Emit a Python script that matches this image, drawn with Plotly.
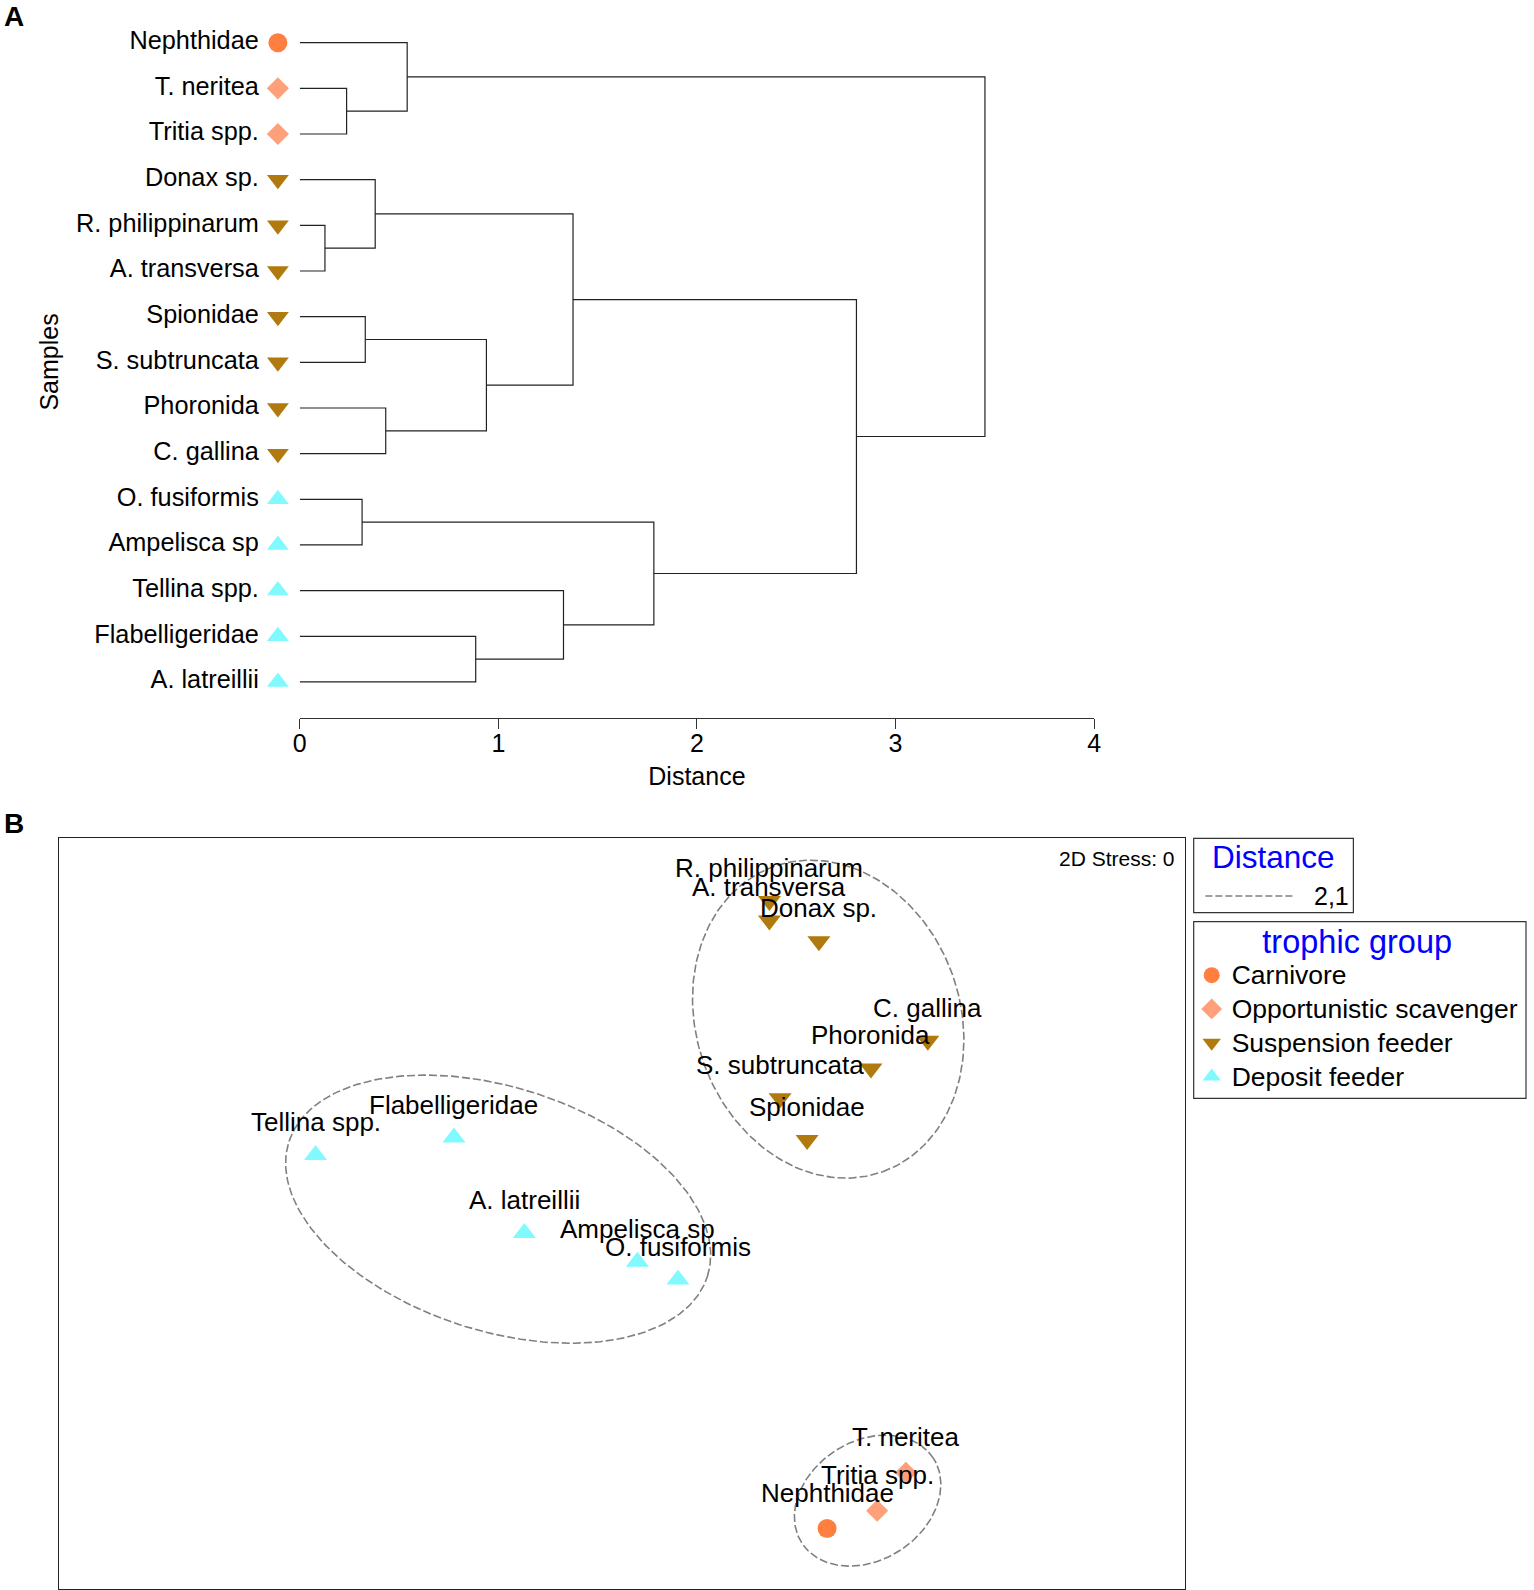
import numpy as np
import plotly.graph_objects as go

W, H = 1534, 1590
FONT = "Liberation Sans, Arial, sans-serif"


def hx(px):
    """horizontal pixel position -> paper fraction (small calibration for the capture)"""
    return (px - 6.0) / 0.9928 / W


def vy(py):
    """vertical pixel position (from top) -> paper fraction"""
    return 1 - py / H


# ---------------- Panel A: dendrogram data ----------------
leaf_names = ["Nephthidae", "T. neritea", "Tritia spp.", "Donax sp.", "R. philippinarum",
              "A. transversa", "Spionidae", "S. subtruncata", "Phoronida", "C. gallina",
              "O. fusiformis", "Ampelisca sp", "Tellina spp.", "Flabelligeridae", "A. latreillii"]
leaf_groups = ["Carnivore", "Opportunistic scavenger", "Opportunistic scavenger",
               "Suspension feeder", "Suspension feeder", "Suspension feeder", "Suspension feeder",
               "Suspension feeder", "Suspension feeder", "Suspension feeder",
               "Deposit feeder", "Deposit feeder", "Deposit feeder", "Deposit feeder", "Deposit feeder"]
# merges: node ids 0..14 are leaves, 15.. are merged clusters in order
merge_left = [1, 0, 4, 3, 6, 8, 19, 18, 10, 13, 12, 23, 22, 16]
merge_right = [2, 15, 5, 17, 7, 9, 20, 21, 11, 14, 24, 25, 26, 27]
merge_height = [0.236, 0.541, 0.127, 0.380, 0.330, 0.433, 0.940, 1.376, 0.314, 0.886, 1.328, 1.783, 2.803, 3.45]
dist_ticks = [0, 1, 2, 3, 4]

# ---------------- Panel B: NMDS data ----------------
nmds_names = ["R. philippinarum", "A. transversa", "Donax sp.", "C. gallina", "Phoronida",
              "S. subtruncata", "Spionidae", "Tellina spp.", "Flabelligeridae", "A. latreillii",
              "Ampelisca sp", "O. fusiformis", "T. neritea", "Tritia spp.", "Nephthidae"]
nmds_groups = ["Suspension feeder"] * 7 + ["Deposit feeder"] * 5 + \
              ["Opportunistic scavenger", "Opportunistic scavenger", "Carnivore"]
nmds_x = [0.524, 0.524, 0.700, 1.087, 0.885, 0.562, 0.658,
          -1.089, -0.597, -0.347, 0.055, 0.199, 1.009, 0.907, 0.729]
nmds_y = [1.109, 1.040, 0.966, 0.613, 0.515, 0.409, 0.261,
          0.208, 0.270, -0.069, -0.171, -0.234, -0.919, -1.054, -1.117]

# cluster contours at distance 2,1 (ellipse: centre, semi-axes, rotation deg)
contour_cx = [0.733, -0.440, 0.873]
contour_cy = [0.690, 0.016, -1.018]
contour_a = [0.575, 0.781, 0.278]
contour_b = [0.469, 0.432, 0.211]
contour_rot = [-70.3, -17.8, 32.6]
contour_level = "2,1"
stress_text = "2D Stress: 0"

group_order = ["Carnivore", "Opportunistic scavenger", "Suspension feeder", "Deposit feeder"]
style = {
    "Carnivore": dict(color="#FF7F40", symbol="circle", sizeA=19, sizeB=19, lab=36),
    "Opportunistic scavenger": dict(color="#FFA07A", symbol="diamond", sizeA=17, sizeB=17, lab=36),
    "Suspension feeder": dict(color="#B07A0E", symbol="triangle-down", sizeA=19, sizeB=20, lab=33),
    "Deposit feeder": dict(color="#80FAFF", symbol="triangle-up", sizeA=19, sizeB=20, lab=33),
}

fig = go.Figure()

# ---- dendrogram geometry from linkage ----
n = len(leaf_names)
node_y = {i: float(i) for i in range(n)}
node_h = {i: 0.0 for i in range(n)}
seg_x, seg_y = [], []
for k, (l, r, h) in enumerate(zip(merge_left, merge_right, merge_height)):
    nid = n + k
    yl, yr = node_y[l], node_y[r]
    seg_x += [node_h[l], h, h, node_h[r], None]
    seg_y += [yl, yl, yr, yr, None]
    node_y[nid] = (yl + yr) / 2
    node_h[nid] = h

fig.add_trace(go.Scatter(x=seg_x, y=seg_y, mode="lines", xaxis="x", yaxis="y",
                         line=dict(color="#222222", width=1.2), showlegend=False,
                         hoverinfo="skip", cliponaxis=False))

# leaf markers / labels on a helper axis left of the distance axis (same scale)
xA0, xA1 = hx(299.3), hx(1095.3)
PX_PER_UNIT = (xA1 - xA0) * W / 4
leaf_pos = list(range(n))
for g in group_order:
    idx = [i for i in range(n) if leaf_groups[i] == g]
    st = style[g]
    fig.add_trace(go.Scatter(x=[-0.11] * len(idx), y=[leaf_pos[i] for i in idx], mode="markers",
                             xaxis="x3", yaxis="y", cliponaxis=False, showlegend=False,
                             marker=dict(color=st["color"], symbol=st["symbol"], size=st["sizeA"],
                                         line=dict(width=0))))
fig.add_trace(go.Scatter(x=[-0.206] * n, y=leaf_pos, mode="text", text=leaf_names,
                         textposition="middle left", xaxis="x3", yaxis="y", cliponaxis=False,
                         showlegend=False, textfont=dict(size=25.3, color="black", family=FONT)))

# ---- NMDS panel ----
t = np.linspace(0, 2 * np.pi, 240)
for k in range(len(contour_cx)):
    phi = np.deg2rad(contour_rot[k])
    ex = contour_cx[k] + contour_a[k] * np.cos(t) * np.cos(phi) - contour_b[k] * np.sin(t) * np.sin(phi)
    ey = contour_cy[k] + contour_a[k] * np.cos(t) * np.sin(phi) + contour_b[k] * np.sin(t) * np.cos(phi)
    fig.add_trace(go.Scatter(x=ex, y=ey, mode="lines", xaxis="x2", yaxis="y2",
                             line=dict(color="#808080", width=1.6, dash="8px,3px"),
                             name=contour_level, showlegend=False, hoverinfo="skip"))

for g in group_order:
    idx = [i for i in range(len(nmds_names)) if nmds_groups[i] == g]
    st = style[g]
    fig.add_trace(go.Scatter(x=[nmds_x[i] for i in idx], y=[nmds_y[i] for i in idx],
                             mode="markers", xaxis="x2", yaxis="y2",
                             name='<span style="font-size:26.5px">%s</span>' % g,
                             legend="legend", text=[nmds_names[i] for i in idx],
                             hovertemplate="%{text}<extra>" + g + "</extra>",
                             marker=dict(color=st["color"], symbol=st["symbol"], size=st["sizeB"],
                                         line=dict(width=0))))

annotations = []
for nm, g, xv, yv in zip(nmds_names, nmds_groups, nmds_x, nmds_y):
    annotations.append(dict(x=xv, y=yv, xref="x2", yref="y2", text=nm, showarrow=False,
                            yshift=style[g]["lab"], font=dict(size=26, color="black", family=FONT)))

annotations += [
    dict(x=hx(1), y=vy(17), xref="paper", yref="paper", text="<b>A</b>", showarrow=False,
         xanchor="left", yanchor="middle", font=dict(size=28, color="black", family=FONT)),
    dict(x=hx(1), y=vy(823), xref="paper", yref="paper", text="<b>B</b>", showarrow=False,
         xanchor="left", yanchor="middle", font=dict(size=28, color="black", family=FONT)),
    dict(x=hx(47.7), y=vy(362), xref="paper", yref="paper", text="Samples", textangle=-90,
         showarrow=False, xanchor="center", yanchor="middle",
         font=dict(size=25, color="black", family=FONT)),
    dict(x=hx(1178), y=vy(858), xref="paper", yref="paper", text=stress_text, showarrow=False,
         xanchor="right", yanchor="middle", font=dict(size=21, color="black", family=FONT)),
    # Distance key box
    dict(x=hx(1275), y=vy(856.7), xref="paper", yref="paper", text="Distance", showarrow=False,
         xanchor="center", yanchor="middle", font=dict(size=31.5, color="blue", family=FONT)),
    dict(x=hx(1353), y=vy(896), xref="paper", yref="paper", text=contour_level, showarrow=False,
         xanchor="right", yanchor="middle", font=dict(size=25, color="black", family=FONT)),
]

shapes = [
    dict(type="rect", xref="paper", yref="paper", x0=hx(1195), x1=hx(1355),
         y0=vy(912.7), y1=vy(838.3), line=dict(color="#333", width=1.2)),
    dict(type="line", xref="paper", yref="paper", x0=hx(1206.7), x1=hx(1296.7),
         y0=vy(896), y1=vy(896), line=dict(color="#808080", width=1.6, dash="7px,3px")),
    # trophic group key box
    dict(type="rect", xref="paper", yref="paper", x0=hx(1195), x1=(W - 1) / W,
         y0=vy(1098.3), y1=vy(921.7), line=dict(color="#333", width=1.2)),
]

leafA_px0, leafA_step, axisA_px = 42.7, 45.66, 718.0
fig.update_layout(
    width=W, height=H, margin=dict(l=0, r=0, t=0, b=0),
    paper_bgcolor="white", plot_bgcolor="white",
    font=dict(family=FONT, color="black"),
    xaxis=dict(domain=[xA0, xA1], range=[0, 4], anchor="y",
               showline=True, linecolor="#333", linewidth=1.2, ticks="outside", ticklen=10,
               tickcolor="#333", tickwidth=1.2, tickvals=dist_ticks, ticklabelstandoff=-7,
               tickfont=dict(size=25, color="black"), showgrid=False, zeroline=False,
               title=dict(text="Distance", font=dict(size=25, color="black"), standoff=11)),
    xaxis3=dict(domain=[0, xA0], range=[-xA0 * W / PX_PER_UNIT, 0], anchor="y",
                visible=False, showgrid=False, zeroline=False),
    yaxis=dict(domain=[vy(axisA_px), 1], anchor="x",
               range=[(axisA_px - leafA_px0) / leafA_step, -leafA_px0 / leafA_step],
               visible=False, showgrid=False, zeroline=False),
    xaxis2=dict(domain=[hx(58.3), hx(1186)], range=[-2.0, 2.0], anchor="y2",
                showline=True, mirror=True, linecolor="#222", linewidth=1.2,
                showticklabels=False, ticks="", showgrid=False, zeroline=False),
    yaxis2=dict(domain=[vy(1589), vy(838.3)], range=[-1.3315, 1.3315], anchor="x2",
                showline=True, mirror=True, linecolor="#222", linewidth=1.2,
                showticklabels=False, ticks="", showgrid=False, zeroline=False),
    legend=dict(x=hx(1193), y=vy(911), xanchor="left", yanchor="top",
                borderwidth=0, bgcolor="rgba(0,0,0,0)",
                font=dict(size=23.7, color="black", family=FONT), traceorder="normal",
                title=dict(text="trophic group", side="top center",
                           font=dict(size=32.5, color="blue", family=FONT))),
    annotations=annotations,
    shapes=shapes,
)

fig.write_html("out.html", config={"displayModeBar": False},
               post_script="document.body.style.margin='0';document.body.style.overflow='hidden';")
